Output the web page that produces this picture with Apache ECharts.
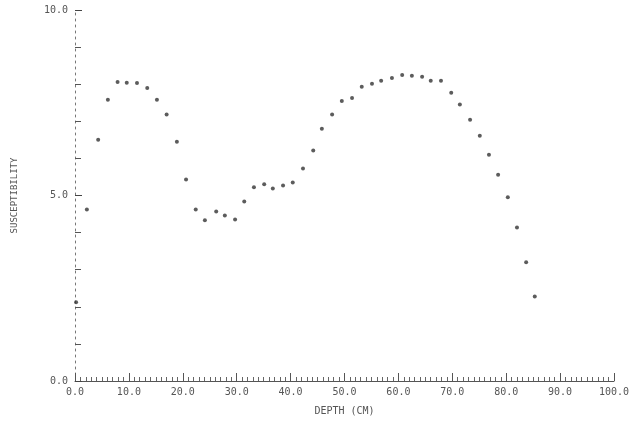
<!DOCTYPE html>
<html>
<head>
<meta charset="utf-8">
<script src="https://cdn.jsdelivr.net/npm/echarts@6/dist/echarts.min.js"></script>
<style>html,body{margin:0;padding:0;background:#fff}#c{width:644px;height:430px}</style>
</head>
<body>
<div id="c"></div>
<script>
var depth = [0.2, 2.2, 4.3, 6.1, 7.9, 9.6, 11.5, 13.4, 15.2, 17.0, 18.9, 20.6, 22.4, 24.1, 26.2, 27.8, 29.7, 31.4, 33.2, 35.1, 36.7, 38.6, 40.4, 42.3, 44.2, 45.8, 47.7, 49.5, 51.4, 53.2, 55.1, 56.8, 58.8, 60.7, 62.5, 64.4, 66.0, 67.9, 69.8, 71.4, 73.3, 75.1, 76.8, 78.5, 80.3, 82.0, 83.7, 85.3];
var susceptibility = [2.12, 4.62, 6.5, 7.58, 8.06, 8.04, 8.03, 7.9, 7.58, 7.18, 6.45, 5.43, 4.62, 4.33, 4.57, 4.46, 4.35, 4.84, 5.22, 5.30, 5.19, 5.27, 5.35, 5.73, 6.21, 6.80, 7.18, 7.55, 7.63, 7.93, 8.01, 8.09, 8.17, 8.25, 8.23, 8.20, 8.09, 8.09, 7.77, 7.45, 7.04, 6.61, 6.10, 5.56, 4.95, 4.14, 3.20, 2.28];
var xTitle = 'DEPTH (CM)';
var yTitle = 'SUSCEPTIBILITY';

var points = depth.map(function (d, i) { return [d, susceptibility[i]]; });
var font = 'DejaVu Sans Mono';
var chart = echarts.init(document.getElementById('c'));
chart.setOption({
  animation: false,
  backgroundColor: '#fff',
  grid: { left: 75, right: 30, top: 10, bottom: 49 },
  xAxis: {
    type: 'value', min: 0, max: 100, interval: 10,
    name: xTitle, nameLocation: 'middle', nameGap: 25,
    nameTextStyle: { fontFamily: font, fontSize: 10, color: '#555' },
    axisLine: { show: true, lineStyle: { color: '#555', width: 1 } },
    axisTick: { show: true, inside: true, length: 8, lineStyle: { color: '#555' } },
    minorTick: { show: true, splitNumber: 10, length: 4, lineStyle: { color: '#666' } },
    axisLabel: { fontFamily: font, fontSize: 10, color: '#555', margin: 6,
      formatter: function (v) { return v.toFixed(1); } },
    splitLine: { show: false }
  },
  yAxis: {
    type: 'value', min: 0, max: 10, interval: 5,
    name: yTitle, nameLocation: 'middle', nameGap: 56, nameRotate: 90,
    nameTextStyle: { fontFamily: font, fontSize: 9, color: '#555' },
    axisLine: { show: true, lineStyle: { color: '#777', width: 1, type: [2, 4] } },
    axisTick: { show: true, inside: true, length: 7, lineStyle: { color: '#444' } },
    minorTick: { show: true, splitNumber: 5, length: 6, lineStyle: { color: '#555' } },
    axisLabel: { fontFamily: font, fontSize: 10, color: '#555', margin: 7,
      formatter: function (v) { return v.toFixed(1); } },
    splitLine: { show: false }
  },
  series: [{
    type: 'scatter',
    data: points,
    symbol: 'circle',
    symbolSize: 4,
    itemStyle: { color: '#333' }
  }]
});
</script>
</body>
</html>
